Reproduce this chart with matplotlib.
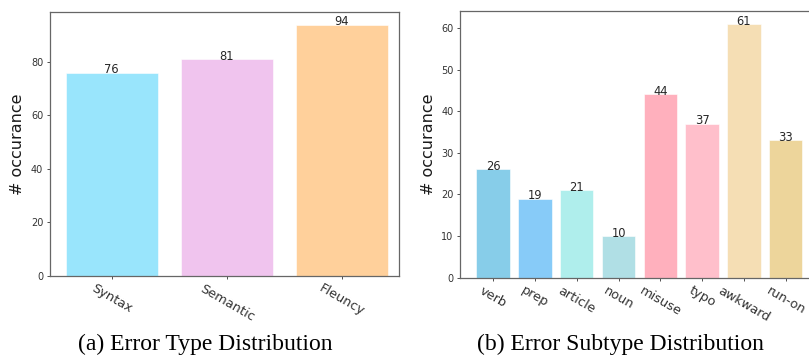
import matplotlib.pyplot as plt

# (a) error types
types = ['Syntax', 'Semantic', 'Fleuncy']
type_counts = [76, 81, 94]
type_colors = ['#99E5FC', '#F0C4EE', '#FFD09B']

# (b) error subtypes
subtypes = ['verb', 'prep', 'article', 'noun', 'misuse', 'typo', 'awkward', 'run-on']
subtype_counts = [26, 19, 21, 10, 44, 37, 61, 33]
subtype_colors = ['#87CDE9', '#87CBF8', '#AFEEEC', '#B0DFE5',
                  '#FFB0BD', '#FFBFCB', '#F5DEB4', '#EDD59B']

W, H = 809, 356
fig = plt.figure(figsize=(W / 100, H / 100), dpi=100)


def px_axes(x0, y0, x1, y1):
    # pixel box (top-left origin) -> figure fraction
    return fig.add_axes([x0 / W, 1 - y1 / H, (x1 - x0) / W, (y1 - y0) / H])


def style(ax):
    for s in ax.spines.values():
        s.set_color('0.4')
        s.set_linewidth(0.9)
    ax.tick_params(axis='y', labelsize=7, length=2.5, width=0.6,
                   colors='0.2', pad=2)
    ax.tick_params(axis='x', labelsize=9.3, length=2.5, width=0.6,
                   colors='0.2', pad=2)
    ax.set_ylabel('# occurance', fontsize=11.5, color='0.1', labelpad=4)


# Plot 1: error type distribution
ax1 = px_axes(49.5, 12, 399.3, 275.7)
ax1.bar(range(len(types)), type_counts, width=0.8, color=type_colors,
        edgecolor='white', linewidth=0.4)
for i, v in enumerate(type_counts):
    ax1.text(i, v - 0.3, str(v), ha='center', va='baseline', fontsize=8.3,
             color='0.15')
ax1.set_xticks(range(len(types)))
ax1.set_xticklabels(types, rotation=-30, ha='center')
ax1.set_xlim(-0.541, 2.50)
ax1.set_yticks([0, 20, 40, 60, 80])
style(ax1)

# Plot 2: error subtype distribution
ax2 = px_axes(459.7, 11, 817.5, 277.7)
ax2.bar(range(len(subtypes)), subtype_counts, width=0.8, color=subtype_colors,
        edgecolor='white', linewidth=0.4)
for i, v in enumerate(subtype_counts):
    ax2.text(i, v - 0.2, str(v), ha='center', va='baseline', fontsize=8.3,
             color='0.15')
ax2.set_xticks(range(len(subtypes)))
ax2.set_xticklabels(subtypes, rotation=-30, ha='center')
ax2.set_xlim(-0.8, 7.76)
ax2.set_yticks([0, 10, 20, 30, 40, 50, 60])
style(ax2)

# subfigure captions
fig.text(205.5 / W, 1 - 344 / H, '(a) Error Type Distribution',
         family='Liberation Serif', fontsize=17, ha='center', va='center')
fig.text(620 / W, 1 - 344 / H, '(b) Error Subtype Distribution',
         family='Liberation Serif', fontsize=17, ha='center', va='center')

plt.savefig('out.png', dpi=100)
plt.close()
